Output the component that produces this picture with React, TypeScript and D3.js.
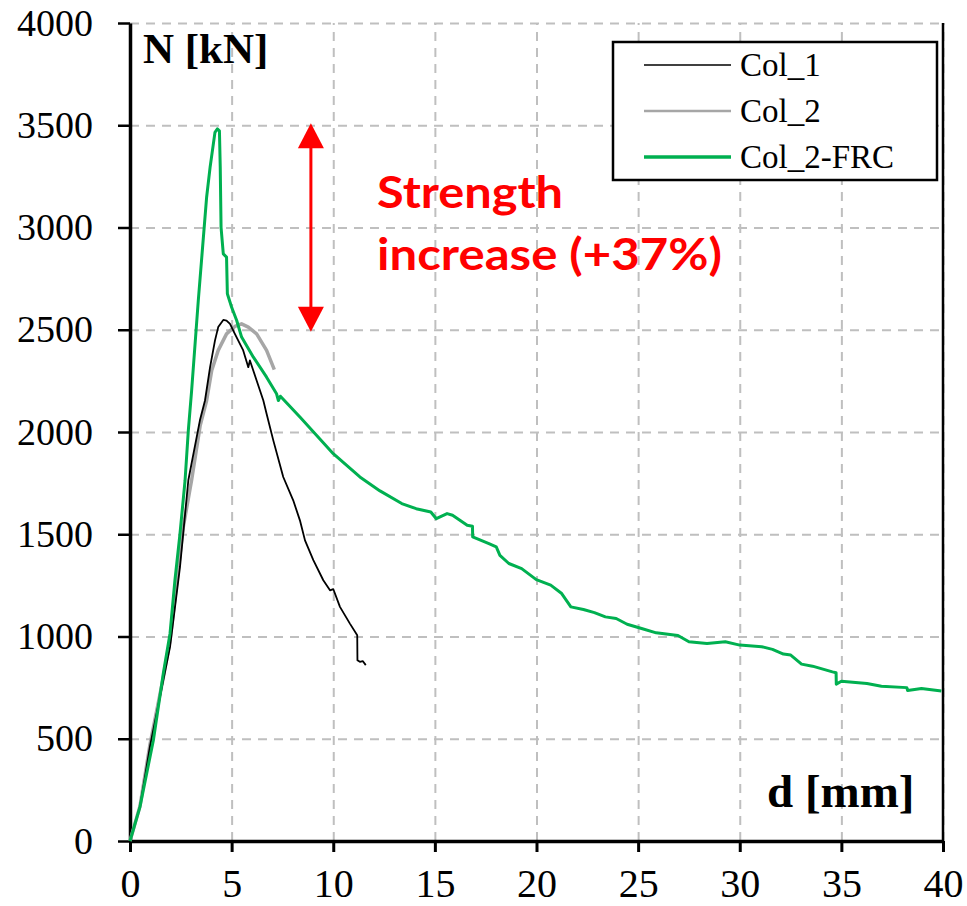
import React, { useEffect, useRef } from "react";
import * as d3 from "d3";

// axial load N [kN] vs. displacement d [mm]
const col1: [number, number][] = [
  [0, 0], [0.49, 167], [0.98, 461], [1.64, 787], [1.97, 949], [2.46, 1340], [2.87, 1764],
  [3.44, 2057], [3.69, 2154], [3.94, 2317], [4.18, 2447], [4.34, 2513], [4.59, 2548],
  [4.75, 2545], [4.92, 2529], [5.16, 2480], [5.57, 2399], [5.82, 2317], [5.9, 2350],
  [6.23, 2252], [6.56, 2154], [6.72, 2089], [7.05, 1959], [7.54, 1780], [8.03, 1666],
  [8.36, 1568], [8.61, 1470], [9.02, 1373], [9.51, 1275], [9.84, 1226], [10.0, 1232],
  [10.33, 1145], [10.82, 1063], [11.18, 1006], [11.19, 884], [11.31, 876], [11.45, 880],
  [11.6, 860],
];

const col2: [number, number][] = [
  [0, 0], [0.49, 170], [0.98, 470], [1.64, 800], [1.97, 982], [2.62, 1535], [3.03, 1764],
  [3.45, 2030], [3.77, 2154], [4.02, 2301], [4.34, 2399], [4.75, 2480], [5.16, 2516],
  [5.49, 2529], [5.82, 2513], [6.23, 2480], [6.72, 2399], [7.1, 2305],
];

const frc: [number, number][] = [
  [0, 0], [0.49, 167], [1.15, 493], [1.64, 820], [1.97, 1015], [2.21, 1275], [2.46, 1503],
  [2.71, 1764], [2.87, 2008], [3.03, 2200], [3.36, 2643], [3.77, 3148], [3.94, 3294],
  [4.18, 3465], [4.3, 3482], [4.4, 3473], [4.44, 3294], [4.48, 3001], [4.59, 2871],
  [4.75, 2855], [4.79, 2676], [5.0, 2610], [5.25, 2545], [5.49, 2464], [6.07, 2366],
  [6.72, 2268], [7.21, 2187], [7.3, 2154], [7.4, 2175], [8.36, 2073], [10.0, 1894],
  [11.31, 1780], [12.3, 1712], [13.37, 1650], [14.08, 1625], [14.8, 1609], [15.07, 1576],
  [15.6, 1601], [15.87, 1593], [16.59, 1544], [16.85, 1539], [16.86, 1487], [17.66, 1454],
  [18.02, 1438], [18.2, 1397], [18.64, 1357], [19.27, 1332], [19.99, 1278], [20.7, 1251],
  [21.24, 1210], [21.69, 1145], [22.31, 1132], [22.85, 1117], [23.39, 1096], [23.92, 1088],
  [24.46, 1060], [25.17, 1039], [25.89, 1018], [26.96, 1005], [27.5, 974], [28.39, 966],
  [29.29, 974], [30.0, 958], [31.08, 950], [31.61, 937], [32.15, 914], [32.51, 909],
  [33.04, 865], [33.58, 855], [34.56, 827], [34.74, 823], [34.75, 767], [35.0, 781],
  [36.26, 770], [36.97, 757], [38.22, 750], [38.26, 736], [38.94, 746], [39.92, 733],
];

const xTicks = [0, 5, 10, 15, 20, 25, 30, 35, 40];
const yTicks = [0, 500, 1000, 1500, 2000, 2500, 3000, 3500, 4000];
const legendNames = ["Col_1", "Col_2", "Col_2-FRC"];

export default function App() {
  const ref = useRef<SVGSVGElement>(null);

  useEffect(() => {
    const svg = d3.select(ref.current);
    svg.selectAll("*").remove();

    const left = 130, right = 943, top = 23, bottom = 841;
    const x = d3.scaleLinear().domain([0, 40]).range([left, right]);
    const y = d3.scaleLinear().domain([0, 4000]).range([bottom, top]);

    // grid
    const gx = svg.append("g").attr("transform", `translate(0,${bottom})`)
      .call(d3.axisBottom(x).tickValues(xTicks).tickSize(-(bottom - top)).tickFormat(() => ""));
    const gy = svg.append("g").attr("transform", `translate(${left},0)`)
      .call(d3.axisLeft(y).tickValues(yTicks).tickSize(-(right - left)).tickFormat(() => ""));
    [gx, gy].forEach(g => {
      g.select(".domain").remove();
      g.selectAll("line").attr("stroke", "#bfbfbf").attr("stroke-width", 2).attr("stroke-dasharray", "9,7");
    });

    // right frame line
    svg.append("line").attr("x1", right).attr("x2", right).attr("y1", top).attr("y2", bottom)
      .attr("stroke", "#000").attr("stroke-width", 2.5);

    // axes
    const ax = svg.append("g").attr("transform", `translate(0,${bottom})`)
      .call(d3.axisBottom(x).tickValues(xTicks).tickFormat(d3.format("d")).tickSize(11).tickSizeOuter(0).tickPadding(17));
    ax.select(".domain").attr("stroke-width", 3.5);
    ax.selectAll("line").attr("stroke-width", 3);
    ax.selectAll("text").attr("font-family", "'Liberation Serif', serif").attr("font-size", 40).attr("fill", "#000");

    const ay = svg.append("g").attr("transform", `translate(${left},0)`)
      .call(d3.axisLeft(y).tickValues(yTicks).tickFormat(d3.format("d")).tickSize(12).tickSizeOuter(0).tickPadding(25));
    ay.select(".domain").attr("stroke-width", 3.5);
    ay.selectAll("line").attr("stroke-width", 2.5);
    ay.selectAll("text").attr("font-family", "'Liberation Serif', serif").attr("font-size", 38).attr("fill", "#000");

    // curves
    const line = d3.line<[number, number]>().x(d => x(d[0])).y(d => y(d[1]));
    svg.append("path").datum(col2).attr("d", line).attr("fill", "none")
      .attr("stroke", "#a6a6a6").attr("stroke-width", 3.5).attr("stroke-linejoin", "round");
    svg.append("path").datum(col1).attr("d", line).attr("fill", "none")
      .attr("stroke", "#000").attr("stroke-width", 1.8).attr("stroke-linejoin", "round");
    svg.append("path").datum(frc).attr("d", line).attr("fill", "none")
      .attr("stroke", "#00b050").attr("stroke-width", 3).attr("stroke-linejoin", "round");

    // axis titles
    svg.append("text").attr("x", 143).attr("y", 63).text("N [kN]")
      .attr("font-family", "'Liberation Serif', serif").attr("font-weight", "bold").attr("font-size", 43);
    svg.append("text").attr("x", 767).attr("y", 807).text("d [mm]")
      .attr("font-family", "'Liberation Serif', serif").attr("font-weight", "bold").attr("font-size", 47);

    // legend
    const leg = svg.append("g");
    leg.append("rect").attr("x", 613).attr("y", 42).attr("width", 324).attr("height", 138)
      .attr("fill", "#fff").attr("stroke", "#000").attr("stroke-width", 2.5);
    const styles = [
      { c: "#000", w: 1.5 },
      { c: "#a6a6a6", w: 2.5 },
      { c: "#00b050", w: 3.5 },
    ];
    legendNames.forEach((name, i) => {
      const ly = 65 + i * 46;
      leg.append("line").attr("x1", 644).attr("x2", 731).attr("y1", ly).attr("y2", ly)
        .attr("stroke", styles[i].c).attr("stroke-width", styles[i].w);
      leg.append("text").attr("x", 740).attr("y", ly + 11).text(name)
        .attr("font-family", "'Liberation Serif', serif").attr("font-size", 33);
    });

    // strength increase arrow
    const ax0 = x(8.9), yTop = y(3510), yBot = y(2490);
    svg.append("line").attr("x1", ax0).attr("x2", ax0).attr("y1", yTop + 20).attr("y2", yBot - 20)
      .attr("stroke", "#ff0000").attr("stroke-width", 3);
    svg.append("path").attr("d", `M${ax0},${yTop} L${ax0 - 13},${yTop + 25} L${ax0 + 13},${yTop + 25} Z`).attr("fill", "#ff0000");
    svg.append("path").attr("d", `M${ax0},${yBot} L${ax0 - 13},${yBot - 25} L${ax0 + 13},${yBot - 25} Z`).attr("fill", "#ff0000");

    const note = svg.append("g").attr("font-family", "Lato, 'Open Sans', sans-serif")
      .attr("font-weight", "bold").attr("font-size", 43).attr("fill", "#ff0000");
    note.append("text").attr("x", 377).attr("y", 208).text("Strength")
      .attr("textLength", 186).attr("lengthAdjust", "spacingAndGlyphs");
    note.append("text").attr("x", 377).attr("y", 270).text("increase (+37%)")
      .attr("textLength", 345).attr("lengthAdjust", "spacingAndGlyphs");
  }, []);

  return (
    <svg ref={ref} width={967} height={906}
      style={{ position: "absolute", left: 0, top: 0, background: "#fff" }} />
  );
}
